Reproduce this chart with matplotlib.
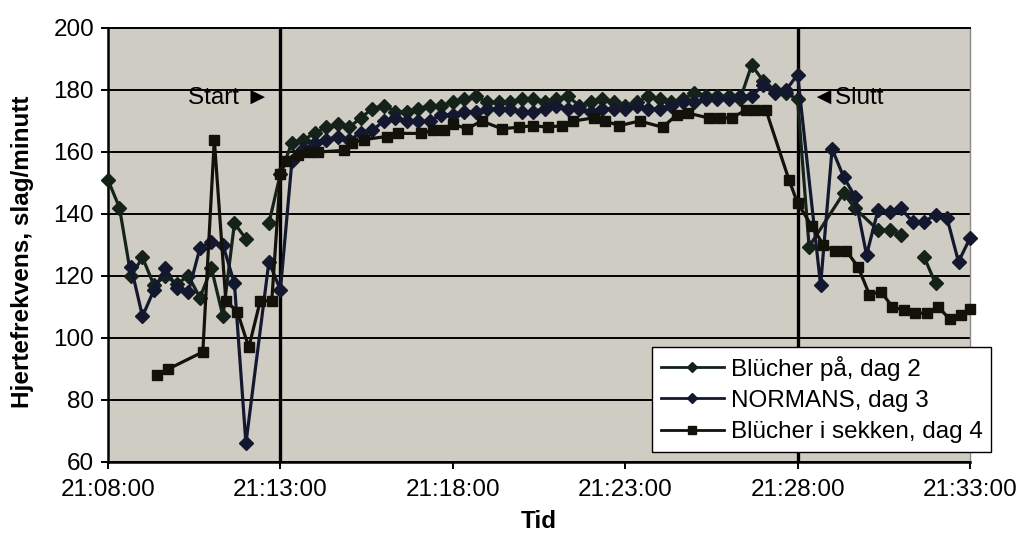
import matplotlib
matplotlib.use("Agg")
import matplotlib.pyplot as plt
import matplotlib.dates as mdates
from datetime import datetime

plt.rcParams['font.family'] = ['Liberation Sans', 'DejaVu Sans']

# --- data -----------------------------------------------------------------
# Blücher på, dag 2 (None = hull i målingene)
tid_dag2 = [
    "21:08:00", "21:08:20", "21:08:40", "21:09:00", "21:09:20", "21:09:40",
    "21:10:00", "21:10:20", "21:10:40", "21:11:00", "21:11:20", "21:11:40",
    "21:12:00", "21:12:20", "21:12:40", "21:13:00", "21:13:20", "21:13:40",
    "21:14:00", "21:14:20", "21:14:40", "21:15:00", "21:15:20", "21:15:40",
    "21:16:00", "21:16:20", "21:16:40", "21:17:00", "21:17:20", "21:17:40",
    "21:18:00", "21:18:20", "21:18:40", "21:19:00", "21:19:20", "21:19:40",
    "21:20:00", "21:20:20", "21:20:40", "21:21:00", "21:21:20", "21:21:40",
    "21:22:00", "21:22:20", "21:22:40", "21:23:00", "21:23:20", "21:23:40",
    "21:24:00", "21:24:20", "21:24:40", "21:25:00", "21:25:20", "21:25:40",
    "21:26:00", "21:26:20", "21:26:40", "21:27:00", "21:27:20", "21:27:40",
    "21:28:00", "21:28:20", "21:29:20", "21:29:40", "21:30:20", "21:30:40",
    "21:31:00", "21:31:20", "21:31:40", "21:32:00",
]
puls_dag2 = [
    151, 142, 120, 126, 117, 120,
    117.5, 120, 113, 122.5, 107, 137,
    132, None, 137, 153, 163, 164,
    166, 168, 169, 168, 171, 174,
    175, 173, 173, 174, 175, 175,
    176, 177, 178, 176, 176, 176,
    177, 177, 176, 177, 178, 175,
    176, 177, 176, 175, 176, 178,
    177, 176, 177, 179, 178, 178,
    178, 177, 188, 183, 180, 179,
    177, 129.5, 146.7, 141.8, 134.8, 134.8,
    133.2, None, 126.2, 117.6,
]

# NORMANS, dag 3
tid_dag3 = [
    "21:08:40", "21:09:00", "21:09:20", "21:09:40", "21:10:00", "21:10:20",
    "21:10:40", "21:11:00", "21:11:20", "21:11:40", "21:12:00", "21:12:40",
    "21:13:00", "21:13:20", "21:13:40", "21:14:00", "21:14:20", "21:14:40",
    "21:15:00", "21:15:20", "21:15:40", "21:16:00", "21:16:20", "21:16:40",
    "21:17:00", "21:17:20", "21:17:40", "21:18:00", "21:18:20", "21:18:40",
    "21:19:00", "21:19:20", "21:19:40", "21:20:00", "21:20:20", "21:20:40",
    "21:21:00", "21:21:20", "21:21:40", "21:22:00", "21:22:20", "21:22:40",
    "21:23:00", "21:23:20", "21:23:40", "21:24:00", "21:24:20", "21:24:40",
    "21:25:00", "21:25:20", "21:25:40", "21:26:00", "21:26:20", "21:26:40",
    "21:27:00", "21:27:20", "21:27:40", "21:28:00", "21:28:40", "21:29:00",
    "21:29:20", "21:29:40", "21:30:00", "21:30:20", "21:30:40", "21:31:00",
    "21:31:20", "21:31:40", "21:32:00", "21:32:20", "21:32:40", "21:33:00",
]
puls_dag3 = [
    123, 107, 115.5, 122.5, 116, 115,
    129, 131, 130, 117.6, 66, 124.6,
    115.5, 157, 161, 163, 164, 165,
    164, 166, 167, 170, 171, 170,
    170, 170, 172, 172, 173, 173,
    174, 174, 174, 173, 173, 174,
    175, 174, 174, 173, 174, 174,
    174, 175, 174, 174, 175, 176,
    176, 177, 177, 177, 178, 178,
    181.6, 179, 180, 185, 117, 161,
    152, 145.6, 126.8, 141.3, 140.7, 141.8,
    137.5, 137.5, 139.7, 138.7, 124.6, 132.2,
]

# Blücher i sekken, dag 4
tid_dag4 = [
    "21:09:25", "21:09:45", "21:10:45", "21:11:05", "21:11:25", "21:11:45",
    "21:12:05", "21:12:25", "21:12:45", "21:13:00", "21:13:10", "21:13:30",
    "21:13:50", "21:14:05", "21:14:50", "21:15:05", "21:15:25", "21:16:05",
    "21:16:25", "21:17:05", "21:17:25", "21:17:45", "21:18:00", "21:18:25",
    "21:18:50", "21:19:25", "21:19:55", "21:20:20", "21:20:45", "21:21:10",
    "21:21:30", "21:22:05", "21:22:25", "21:22:50", "21:23:25", "21:24:05",
    "21:24:30", "21:24:50", "21:25:25", "21:25:45", "21:26:05", "21:26:30",
    "21:26:45", "21:27:05", "21:27:45", "21:28:00", "21:28:25", "21:28:45",
    "21:29:05", "21:29:25", "21:29:45", "21:30:05", "21:30:25", "21:30:45",
    "21:31:05", "21:31:25", "21:31:45", "21:32:05", "21:32:25", "21:32:45",
    "21:33:00",
]
puls_dag4 = [
    88, 90, 95.5, 164, 112, 108.5,
    97, 112, 112, 153, 157, 159,
    160, 160, 160.5, 163, 164, 165,
    166, 166, 167, 167, 169, 167.5,
    170, 167.5, 168, 168.5, 168, 168.5,
    170, 171, 170, 168.5, 170, 168,
    172, 172.5, 171, 171, 171, 173.5,
    173.5, 173.5, 151, 143.5, 136, 130,
    128, 128, 123, 114, 115, 110,
    109, 108, 108, 110, 106, 107.5,
    109.5,
]

x_ticks = ["21:08:00", "21:13:00", "21:18:00", "21:23:00", "21:28:00", "21:33:00"]
y_ticks = [60, 80, 100, 120, 140, 160, 180, 200]
start_tid = "21:13:00"
slutt_tid = "21:28:00"


def to_dt(s):
    return datetime.strptime("2000-01-01 " + s, "%Y-%m-%d %H:%M:%S")


def segments(times, values):
    seg_t, seg_v = [], []
    for t, v in zip(times, values):
        if v is None:
            if seg_t:
                yield seg_t, seg_v
            seg_t, seg_v = [], []
        else:
            seg_t.append(to_dt(t))
            seg_v.append(v)
    if seg_t:
        yield seg_t, seg_v


FS = 17.5

# --- figure ---------------------------------------------------------------
fig = plt.figure(figsize=(10.18, 5.38), dpi=100)
fig.patch.set_facecolor("white")
ax = fig.add_axes([108 / 1018, 1 - 462 / 538, (970 - 108) / 1018, (462 - 28) / 538])
ax.set_facecolor("#cfccc4")

series = [
    (tid_dag2, puls_dag2, "Blücher på, dag 2", "#142219", "D", 7.5),
    (tid_dag3, puls_dag3, "NORMANS, dag 3", "#13182e", "D", 7.5),
    (tid_dag4, puls_dag4, "Blücher i sekken, dag 4", "#12110a", "s", 7.0),
]
handles = []
for times, vals, label, col, mk, ms in series:
    first = True
    for st, sv in segments(times, vals):
        ln, = ax.plot(st, sv, color=col, lw=2.3, marker=mk, ms=ms,
                      markerfacecolor=col, markeredgecolor=col,
                      clip_on=False, zorder=4,
                      label=label if first else "_nolegend_")
        if first:
            handles.append(ln)
            first = False

# axes limits and grid
ax.set_xlim(to_dt(x_ticks[0]), to_dt(x_ticks[-1]))
ax.set_ylim(60, 200)
ax.set_yticks(y_ticks)
ax.set_xticks([to_dt(t) for t in x_ticks])
ax.xaxis.set_major_formatter(mdates.DateFormatter("%H:%M:%S"))
ax.yaxis.grid(True, color="black", lw=1.4)
ax.set_axisbelow(True)

for t in (start_tid, slutt_tid):
    ax.axvline(to_dt(t), color="black", lw=2.4, zorder=3)

for side in ("left", "bottom"):
    ax.spines[side].set_color("black")
    ax.spines[side].set_linewidth(1.8)
ax.spines["top"].set_color("black")
ax.spines["top"].set_linewidth(1.4)
ax.spines["right"].set_color("#8a8a8a")
ax.spines["right"].set_linewidth(1.0)

ax.tick_params(axis="both", labelsize=FS, direction="out", length=5,
               width=1.4, color="black")
ax.tick_params(axis="x", pad=7)
ax.tick_params(axis="y", pad=5)

ax.set_ylabel("Hjertefrekvens, slag/minutt", fontsize=FS, fontweight="bold")
ax.yaxis.set_label_coords(-0.086, 0.485)
ax.set_xlabel("Tid", fontsize=FS, fontweight="bold")
ax.xaxis.set_label_coords(0.5, -0.11)

# start / stop markers
ax.annotate("Start \u25ba", xy=(to_dt(start_tid), 177.4), xytext=(-8, 0),
            textcoords="offset points", ha="right", va="center", fontsize=FS)
ax.annotate("\u25c4Slutt", xy=(to_dt(slutt_tid), 177.4), xytext=(10, 0),
            textcoords="offset points", ha="left", va="center", fontsize=FS)

leg = ax.legend(handles=handles, loc="upper left",
                bbox_to_anchor=(652 / 1018, 1 - 347 / 538),
                bbox_transform=fig.transFigure, fontsize=FS,
                frameon=True, fancybox=False, borderpad=0.35,
                labelspacing=0.38, handlelength=2.6, handletextpad=0.3,
                borderaxespad=0.0)
leg.get_frame().set_edgecolor("black")
leg.get_frame().set_linewidth(1.0)
leg.get_frame().set_facecolor("white")
leg.get_frame().set_alpha(1.0)
leg.set_zorder(10)
for h in leg.legend_handles:
    h.set_markersize(5.5)
    h.set_linewidth(2.0)

fig.savefig("out.png", dpi=100, facecolor="white")
